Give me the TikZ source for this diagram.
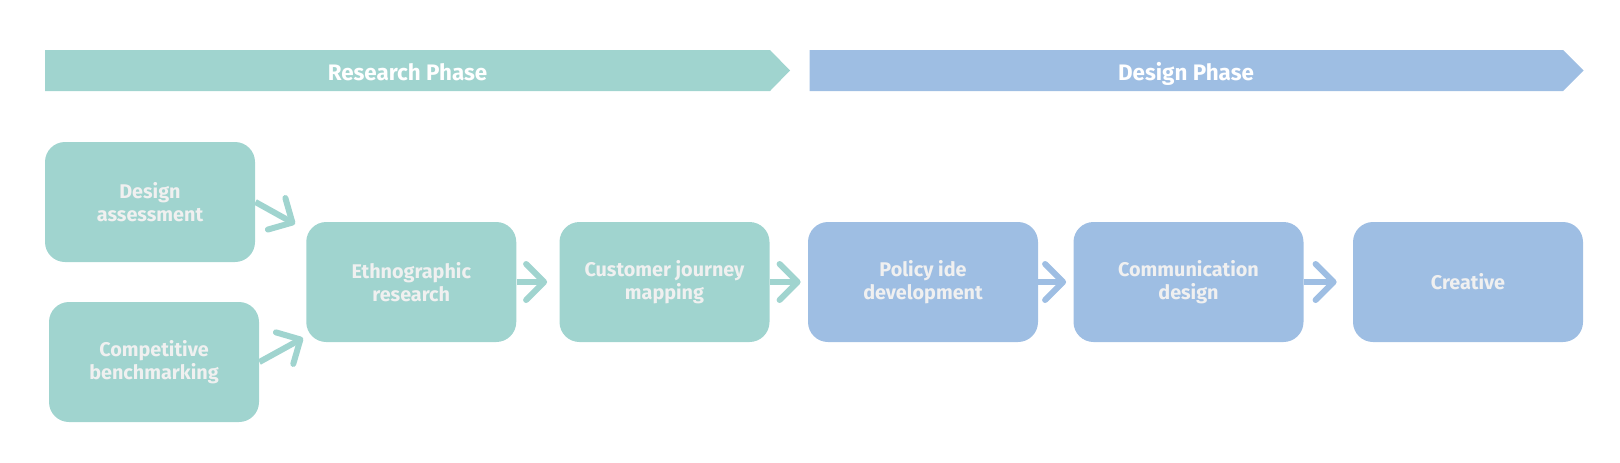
\documentclass[tikz,border=0pt]{standalone}
\usepackage{fontspec}
\setmainfont{Fira Sans}
\usetikzlibrary{arrows.meta}

\definecolor{tealR}{HTML}{A0D4CF}
\definecolor{blueD}{HTML}{9EBEE3}
\colorlet{figR}{tealR}
\colorlet{figD}{blueD}

\begin{document}
\begin{tikzpicture}[x=0.5pt, y=-0.5pt,
    box/.style={rounded corners=10pt, minimum width=105pt, minimum height=60pt,
      inner sep=0pt, align=center, text=white!94!black,
      font=\bfseries\fontsize{9.9}{11.8}\selectfont},
    wbox/.style={box, minimum width=115pt},
    phase/.style={text=white, anchor=base, font=\bfseries\fontsize{11.2}{13}\selectfont},
    flow/.style={line width=3pt, -{Straight Barb[length=9pt,width=18pt,round]}}]
    \useasboundingbox (0,0) rectangle (1620,462);
    %--- Faser ---
    \fill[figR](45,50)--(770,50)--(790,70.5)--(770,91)--(45,91)--cycle;
    \node[phase] (research) at (407.5,80){Research Phase};
    \fill[figD](809.5,50)--(1563,50)--(1583.5,70.5)--(1563,91)--(809.5,91)--cycle;
    \node[phase] (designph) at (1186,80){Design Phase};
    %--- Research-bokser ---
    \node[box, fill=figR] (dass) at (150,202){Design\\assessment};
    \node[box, fill=figR] (comp) at (154,362){Competitive\\benchmarking};
    \node[box, fill=figR] (ethno) at (411.25,282){Ethnographic\\research};
    \node[box, fill=figR] (cjm) at (664.5,282){Customer journey\\mapping};
    %--- Design-bokser ---
    \node[wbox, fill=figD] (policy) at (923,282){Policy ide\\development};
    \node[wbox, fill=figD] (comm) at (1188.5,282){Communication\\design};
    \node[wbox, fill=figD] (creative) at (1468,282){Creative};
    %--- Piler ---
    \coordinate (inA) at (295,224);
    \coordinate (inB) at (303,338);
    \draw[flow, figR](dass.east)--(inA);
    \draw[flow, figR](comp.east)--(inB);
    \draw[flow, figR, shorten >=6pt](ethno)--(cjm);
    \draw[flow, figR, shorten >=3.5pt](cjm)--(policy);
    \draw[flow, figD, shorten >=3.5pt](policy)--(comm);
    \draw[flow, figD, shorten >=8pt](comm)--(creative);
  \end{tikzpicture}
\end{document}
